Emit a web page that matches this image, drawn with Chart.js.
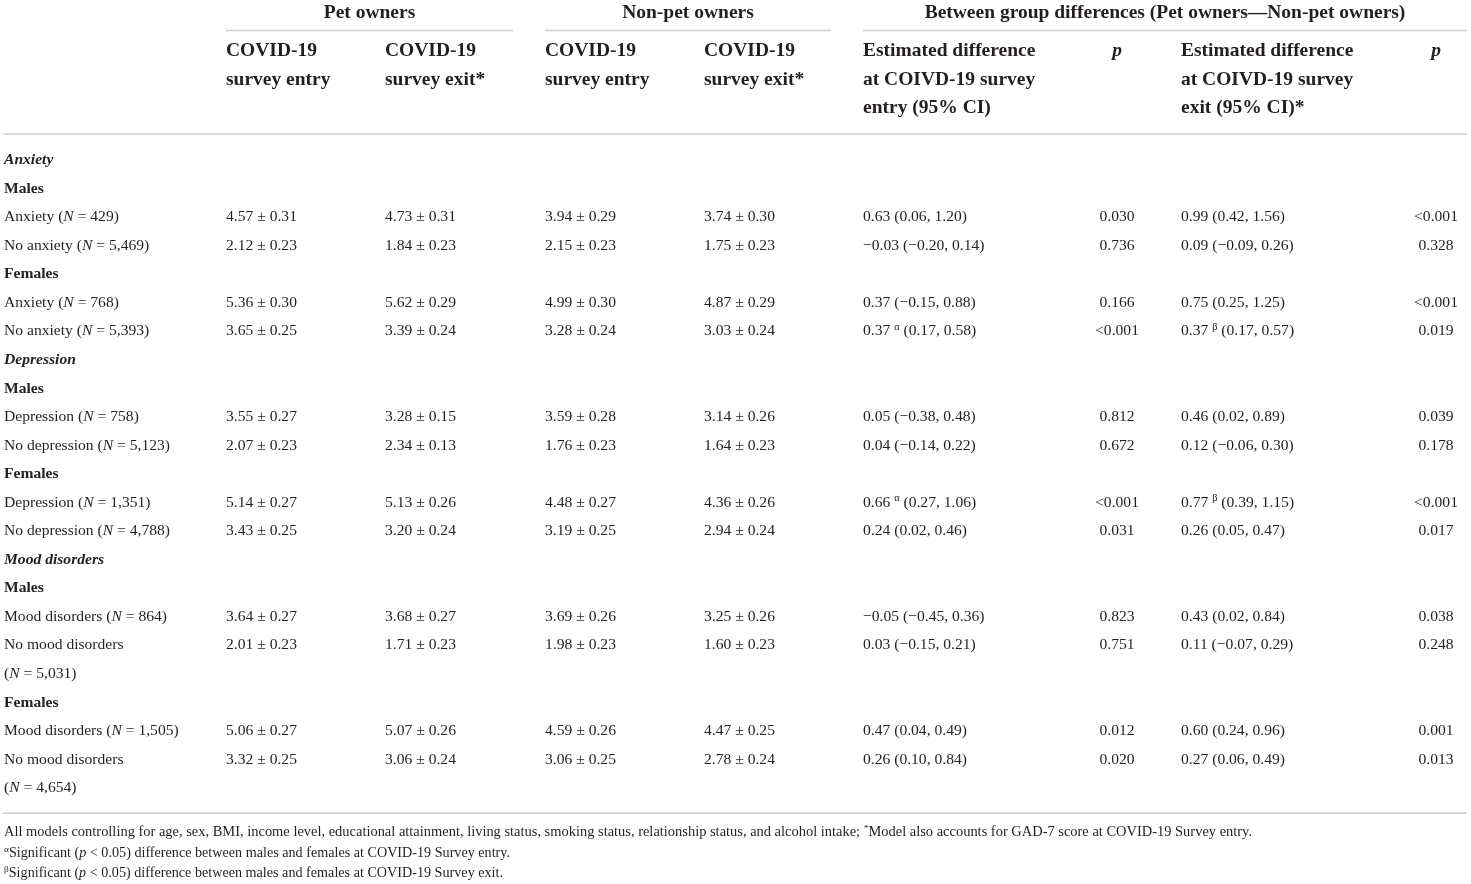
<!DOCTYPE html>
<html>
<head>
<meta charset="utf-8">
<script src="https://cdn.jsdelivr.net/npm/chart.js@4.4.1/dist/chart.umd.min.js"></script>
<style>
  html, body { margin: 0; padding: 0; background: #fff; }
  #wrap { width: 1471px; height: 884px; }
</style>
</head>
<body>
<div id="wrap"><canvas id="table" width="1471" height="884"></canvas></div>
<script>
// row stubs; _ toggles italic, ^ raises the next character
var rowLabels = [
    'Anxiety', 'Males', 'Anxiety (_N_ = 429)', 'No anxiety (_N_ = 5,469)',
    'Females', 'Anxiety (_N_ = 768)', 'No anxiety (_N_ = 5,393)',
    'Depression', 'Males', 'Depression (_N_ = 758)', 'No depression (_N_ = 5,123)',
    'Females', 'Depression (_N_ = 1,351)', 'No depression (_N_ = 4,788)',
    'Mood disorders', 'Males', 'Mood disorders (_N_ = 864)', 'No mood disorders',
    '(_N_ = 5,031)', 'Females', 'Mood disorders (_N_ = 1,505)', 'No mood disorders',
    '(_N_ = 4,654)'
];
var rowKinds = ['section', 'group', 'data', 'data', 'group', 'data', 'data',
    'section', 'group', 'data', 'data', 'group', 'data', 'data',
    'section', 'group', 'data', 'data', 'data', 'group', 'data', 'data', 'data'];

var petEntryMean = [null, null, 4.57, 2.12, null, 5.36, 3.65, null, null, 3.55, 2.07, null, 5.14, 3.43, null, null, 3.64, 2.01, null, null, 5.06, 3.32, null];
var petEntrySE   = [null, null, 0.31, 0.23, null, 0.30, 0.25, null, null, 0.27, 0.23, null, 0.27, 0.25, null, null, 0.27, 0.23, null, null, 0.27, 0.25, null];
var petExitMean  = [null, null, 4.73, 1.84, null, 5.62, 3.39, null, null, 3.28, 2.34, null, 5.13, 3.20, null, null, 3.68, 1.71, null, null, 5.07, 3.06, null];
var petExitSE    = [null, null, 0.31, 0.23, null, 0.29, 0.24, null, null, 0.15, 0.13, null, 0.26, 0.24, null, null, 0.27, 0.23, null, null, 0.26, 0.24, null];
var nonEntryMean = [null, null, 3.94, 2.15, null, 4.99, 3.28, null, null, 3.59, 1.76, null, 4.48, 3.19, null, null, 3.69, 1.98, null, null, 4.59, 3.06, null];
var nonEntrySE   = [null, null, 0.29, 0.23, null, 0.30, 0.24, null, null, 0.28, 0.23, null, 0.27, 0.25, null, null, 0.26, 0.23, null, null, 0.26, 0.25, null];
var nonExitMean  = [null, null, 3.74, 1.75, null, 4.87, 3.03, null, null, 3.14, 1.64, null, 4.36, 2.94, null, null, 3.25, 1.60, null, null, 4.47, 2.78, null];
var nonExitSE    = [null, null, 0.30, 0.23, null, 0.29, 0.24, null, null, 0.26, 0.23, null, 0.26, 0.24, null, null, 0.26, 0.23, null, null, 0.25, 0.24, null];

var diffEntryEst = [null, null, 0.63, -0.03, null, 0.37, 0.37, null, null, 0.05, 0.04, null, 0.66, 0.24, null, null, -0.05, 0.03, null, null, 0.47, 0.26, null];
var diffEntryLo  = [null, null, 0.06, -0.20, null, -0.15, 0.17, null, null, -0.38, -0.14, null, 0.27, 0.02, null, null, -0.45, -0.15, null, null, 0.04, 0.10, null];
var diffEntryHi  = [null, null, 1.20, 0.14, null, 0.88, 0.58, null, null, 0.48, 0.22, null, 1.06, 0.46, null, null, 0.36, 0.21, null, null, 0.49, 0.84, null];
var diffEntryMark = [null, null, null, null, null, null, 'α', null, null, null, null, null, 'α', null, null, null, null, null, null, null, null, null, null];
var pEntry = [null, null, '0.030', '0.736', null, '0.166', '<0.001', null, null, '0.812', '0.672', null, '<0.001', '0.031', null, null, '0.823', '0.751', null, null, '0.012', '0.020', null];

var diffExitEst = [null, null, 0.99, 0.09, null, 0.75, 0.37, null, null, 0.46, 0.12, null, 0.77, 0.26, null, null, 0.43, 0.11, null, null, 0.60, 0.27, null];
var diffExitLo  = [null, null, 0.42, -0.09, null, 0.25, 0.17, null, null, 0.02, -0.06, null, 0.39, 0.05, null, null, 0.02, -0.07, null, null, 0.24, 0.06, null];
var diffExitHi  = [null, null, 1.56, 0.26, null, 1.25, 0.57, null, null, 0.89, 0.30, null, 1.15, 0.47, null, null, 0.84, 0.29, null, null, 0.96, 0.49, null];
var diffExitMark = [null, null, null, null, null, null, 'β', null, null, null, null, null, 'β', null, null, null, null, null, null, null, null, null, null];
var pExit = [null, null, '<0.001', '0.328', null, '<0.001', '0.019', null, null, '0.039', '0.178', null, '<0.001', '0.017', null, null, '0.038', '0.248', null, null, '0.001', '0.013', null];

var groupHeaders = ['Pet owners', 'Non-pet owners', 'Between group differences (Pet owners—Non-pet owners)'];
var columnHeaders = [
    ['COVID-19', 'survey entry'],
    ['COVID-19', 'survey exit*'],
    ['COVID-19', 'survey entry'],
    ['COVID-19', 'survey exit*'],
    ['Estimated difference', 'at COIVD-19 survey', 'entry (95% CI)'],
    ['_p_'],
    ['Estimated difference', 'at COIVD-19 survey', 'exit (95% CI)*'],
    ['_p_']
];
var footnotes = [
    'All models controlling for age, sex, BMI, income level, educational attainment, living status, smoking status, relationship status, and alcohol intake; ^*Model also accounts for GAD-7 score at COVID-19 Survey entry.',
    '^αSignificant (_p_ < 0.05) difference between males and females at COVID-19 Survey entry.',
    '^βSignificant (_p_ < 0.05) difference between males and females at COVID-19 Survey exit.'
];

// layout
var FONT = '"Liberation Serif", "DejaVu Serif", serif';
var INK = '#231f20';
var RULE = '#cdcdcd';
var colX = [4, 226, 385, 545, 704, 863, 1117, 1181, 1436];
var colAlign = ['left', 'left', 'left', 'left', 'left', 'left', 'center', 'left', 'center'];
var groupSpans = [[226, 513], [545, 831], [863, 1467]];
var footY = [831, 852, 872];
var footWidth = [1248, 506, 499];

function num(v) {
    return (v < 0 ? '−' : '') + Math.abs(v).toFixed(2);
}
function meanSE(m, s) {
    return m.map(function (v, i) { return v === null ? null : v.toFixed(2) + ' ± ' + s[i].toFixed(2); });
}
function diffCI(est, lo, hi, mark) {
    return est.map(function (v, i) {
        if (v === null) return null;
        return num(v) + (mark[i] ? ' ^' + mark[i] : '') + ' (' + num(lo[i]) + ', ' + num(hi[i]) + ')';
    });
}

var columns = [
    rowLabels,
    meanSE(petEntryMean, petEntrySE),
    meanSE(petExitMean, petExitSE),
    meanSE(nonEntryMean, nonEntrySE),
    meanSE(nonExitMean, nonExitSE),
    diffCI(diffEntryEst, diffEntryLo, diffEntryHi, diffEntryMark),
    pEntry,
    diffCI(diffExitEst, diffExitLo, diffExitHi, diffExitMark),
    pExit
];

function parseRich(str) {
    var segs = [], italic = false, cur = '';
    for (var i = 0; i < str.length; i++) {
        var ch = str[i];
        if (ch === '_') {
            if (cur) segs.push({ t: cur, it: italic, sup: false });
            cur = ''; italic = !italic;
        } else if (ch === '^') {
            if (cur) segs.push({ t: cur, it: italic, sup: false });
            cur = '';
            segs.push({ t: str[++i], it: italic, sup: true });
        } else {
            cur += ch;
        }
    }
    if (cur) segs.push({ t: cur, it: italic, sup: false });
    return segs;
}

function segFont(seg, size, bold, italic) {
    var it = (seg.it !== italic) ? 'italic ' : '';
    var s = seg.sup ? size * 0.66 : size;
    return it + (bold ? 'bold ' : '') + s.toFixed(2) + 'px ' + FONT;
}

function measureRich(ctx, segs, size, bold, italic) {
    var total = 0;
    segs.forEach(function (s) {
        ctx.font = segFont(s, size, bold, italic);
        s.w = ctx.measureText(s.t).width;
        total += s.w;
    });
    return total;
}

// draws rich text vertically centred on y; fitW squeezes it to a width
function drawRich(ctx, str, x, y, align, size, bold, italic, fitW) {
    var segs = parseRich(str);
    var total = measureRich(ctx, segs, size, bold, italic);
    var sx = fitW ? fitW / total : 1;
    var start = x;
    if (align === 'center') start = x - total * sx / 2;
    else if (align === 'right') start = x - total * sx;
    var base = y + size * 0.33;
    ctx.save();
    ctx.fillStyle = INK;
    ctx.textBaseline = 'alphabetic';
    ctx.textAlign = 'left';
    ctx.translate(start, 0);
    ctx.scale(sx, 1);
    var cx = 0;
    segs.forEach(function (s) {
        ctx.font = segFont(s, size, bold, italic);
        ctx.fillText(s.t, cx, s.sup ? base - size * 0.34 : base);
        cx += s.w;
    });
    ctx.restore();
}

function hline(ctx, x1, x2, y) {
    ctx.save();
    ctx.strokeStyle = RULE;
    ctx.lineWidth = 1.5;
    ctx.beginPath();
    ctx.moveTo(x1, y);
    ctx.lineTo(x2, y);
    ctx.stroke();
    ctx.restore();
}

var tablePlugin = {
    id: 'tableText',
    afterDatasetsDraw: function (chart) {
        var ctx = chart.ctx;
        // header
        groupHeaders.forEach(function (h, g) {
            var sp = groupSpans[g];
            drawRich(ctx, h, (sp[0] + sp[1]) / 2, 12, 'center', 19.5, true, false);
            hline(ctx, sp[0], sp[1], 30.5);
        });
        var headY = [50, 79, 107];
        columnHeaders.forEach(function (lines, c) {
            lines.forEach(function (line, k) {
                drawRich(ctx, line, colX[c + 1], headY[k], colAlign[c + 1], 19.5, true, false);
            });
        });
        hline(ctx, 3, 1467, 134);

        // body cells, positioned by the chart's own scales
        chart.data.datasets.forEach(function (ds, d) {
            var meta = chart.getDatasetMeta(d);
            meta.data.forEach(function (el, j) {
                var cell = ds.data[j];
                var kind = rowKinds[cell.y];
                var bold = d === 0 && kind !== 'data';
                var ital = d === 0 && kind === 'section';
                drawRich(ctx, cell.text, el.x, el.y, colAlign[d], 15.6, bold, ital);
            });
        });

        var bottom = chart.scales.y.getPixelForValue(rowLabels.length - 0.5) + 12;
        hline(ctx, 3, 1467, bottom);

        // footnotes, squeezed to the printed widths
        footnotes.forEach(function (f, k) {
            drawRich(ctx, f, 4, footY[k], 'left', 14, false, false, footWidth[k]);
        });
    }
};

var datasets = columns.map(function (col, c) {
    var pts = [];
    col.forEach(function (text, i) {
        if (text !== null) pts.push({ x: colX[c], y: i, text: text });
    });
    return { label: 'col' + c, data: pts, pointRadius: 0, pointHoverRadius: 0, showLine: false };
});

var ctx = document.getElementById('table').getContext('2d');
new Chart(ctx, {
    type: 'scatter',
    data: { datasets: datasets },
    options: {
        responsive: false,
        animation: false,
        events: [],
        layout: { padding: { top: 144.7, bottom: 82.7, left: 0, right: 0 } },
        scales: {
            x: { type: 'linear', min: 0, max: 1471, display: false },
            y: { type: 'linear', min: -0.5, max: rowLabels.length - 0.5, reverse: true, display: false }
        },
        plugins: {
            legend: { display: false },
            tooltip: { enabled: false },
            title: { display: false }
        }
    },
    plugins: [tablePlugin]
});
</script>
</body>
</html>
